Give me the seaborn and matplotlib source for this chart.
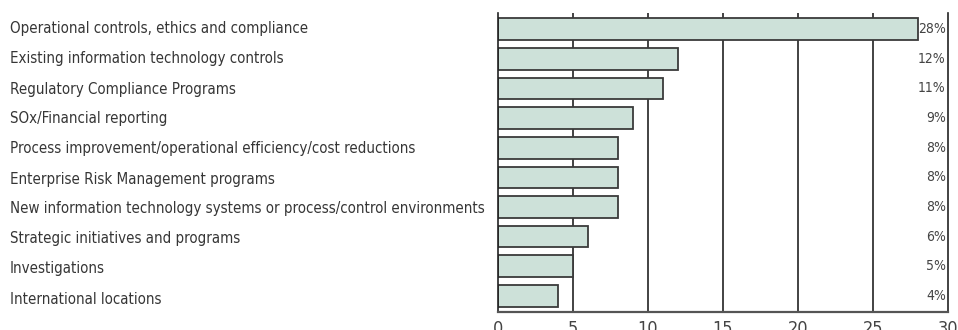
import matplotlib
matplotlib.use("Agg")
import matplotlib.pyplot as plt
from matplotlib import font_manager
import seaborn as sns
import pandas as pd

categories = [
    "Operational controls, ethics and compliance",
    "Existing information technology controls",
    "Regulatory Compliance Programs",
    "SOx/Financial reporting",
    "Process improvement/operational efficiency/cost reductions",
    "Enterprise Risk Management programs",
    "New information technology systems or process/control environments",
    "Strategic initiatives and programs",
    "Investigations",
    "International locations",
]
values = [28, 12, 11, 9, 8, 8, 8, 6, 5, 4]
x_ticks = [0, 5, 10, 15, 20, 25, 30]

# pick a narrow sans face if one is installed
entries = font_manager.fontManager.ttflist
narrow = None
for e in entries:
    if "Narrow" in e.name or ("condensed" in str(e.stretch).lower() or
                              (isinstance(e.stretch, int) and e.stretch < 500)):
        if "Bold" not in e.fname and "Oblique" not in e.fname and "Italic" not in e.fname:
            narrow = e
            break
if narrow is not None:
    fp = font_manager.FontProperties(fname=narrow.fname)
else:
    fp = font_manager.FontProperties(family="DejaVu Sans")

sns.set_style("white")
plt.rcParams["font.family"] = ["DejaVu Sans"]

df = pd.DataFrame({"category": categories, "value": values})

fig = plt.figure(figsize=(9.58, 3.30), dpi=100)
ax = fig.add_axes([0.5195, 0.0545, 0.4701, 0.9061])

# vertical reference lines behind the bars
for t in x_ticks[1:-1]:
    ax.axvline(t, color="#222222", lw=1.2, zorder=0)

sns.barplot(data=df, x="value", y="category", orient="h", ax=ax,
            color="#cde1d9", edgecolor="#3a3a3a", linewidth=1.3,
            width=0.73, saturation=1, zorder=2)

ax.set_xlim(0, 30)
ax.set_ylim(9.55, -0.55)
ax.set_xticks(x_ticks)
ax.set_xticklabels([str(t) for t in x_ticks])
for lab in ax.get_xticklabels():
    lab.set_fontproperties(fp)
    lab.set_fontsize(13)
    lab.set_color("#444444")
ax.tick_params(axis="x", length=0, pad=6)
ax.set_yticks([])
ax.set_xlabel("")
ax.set_ylabel("")

for side in ["left", "right", "bottom"]:
    ax.spines[side].set_visible(True)
    ax.spines[side].set_color("#222222")
    ax.spines[side].set_linewidth(1.2)
ax.spines["bottom"].set_color("#555555")
ax.spines["bottom"].set_linewidth(1.6)
ax.spines["top"].set_visible(False)

# category names on the left
for i, name in enumerate(categories):
    fig.text(10 / 958, 1 - (29 + 30 * i) / 330, name, ha="left", va="center",
             fontproperties=fp, fontsize=10.8, color="#363636")

# percentage labels at the right edge
for i, v in enumerate(values):
    ax.text(29.85, i, f"{v}%", ha="right", va="center", fontproperties=fp,
            fontsize=10, color="#444444", zorder=3)

fig.savefig("out.png", dpi=100)
